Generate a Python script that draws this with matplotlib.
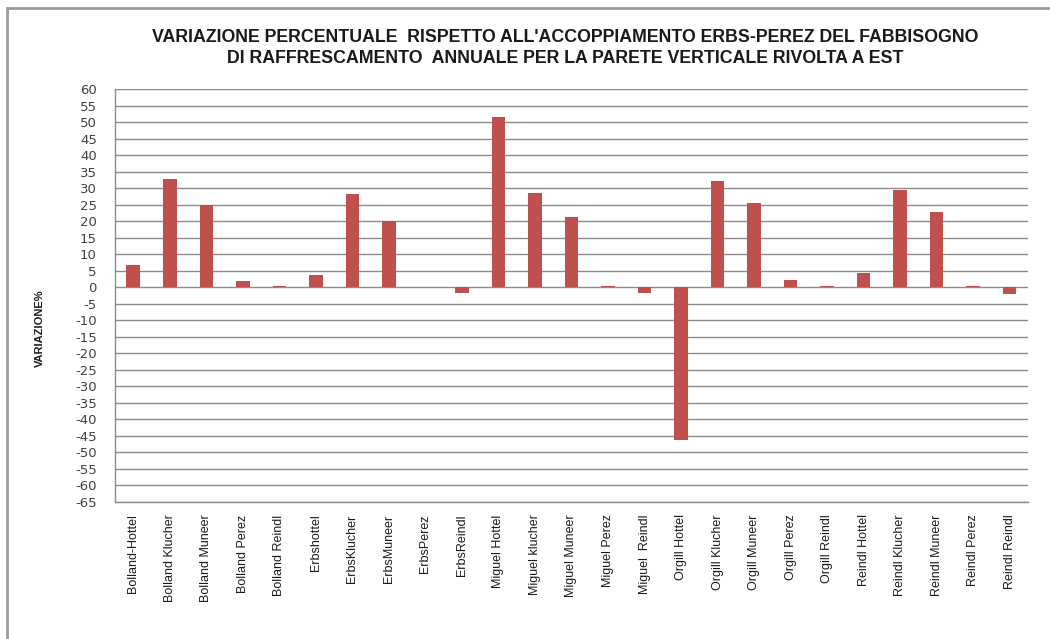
import matplotlib
matplotlib.use("Agg")
import matplotlib.pyplot as plt
from matplotlib.patches import Rectangle

categories = [
    "Bolland-Hottel", "Bolland Klucher", "Bolland Muneer", "Bolland Perez", "Bolland Reindl",
    "Erbshottel", "ErbsKlucher", "ErbsMuneer", "ErbsPerez", "ErbsReindl",
    "Miguel Hottel", "Miguel klucher", "Miguel Muneer", "Miguel Perez", "Miguel  Reindl",
    "Orgill Hottel", "Orgill Klucher", "Orgill Muneer", "Orgill Perez", "Orgill Reindl",
    "Reindl Hottel", "Reindl Klucher", "Reindl Muneer", "Reindl Perez", "Reindl Reindl",
]
variazione = [
    6.7, 32.7, 25.0, 1.8, 0.4,
    3.6, 28.2, 20.0, 0.0, -1.6,
    51.6, 28.4, 21.4, 0.4, -1.6,
    -46.3, 32.1, 25.4, 2.1, 0.4,
    4.2, 29.3, 22.8, 0.4, -2.0,
]
y_ticks = list(range(-65, 61, 5))

title = ("VARIAZIONE PERCENTUALE  RISPETTO ALL'ACCOPPIAMENTO ERBS-PEREZ DEL FABBISOGNO\n"
         "DI RAFFRESCAMENTO  ANNUALE PER LA PARETE VERTICALE RIVOLTA A EST")

fig = plt.figure(figsize=(10.5, 6.39), dpi=100)
fig.patch.set_facecolor("white")

# outer chart frame
fig.patches.append(Rectangle((7 / 1050, -0.05), 1.1, 1 - 8 / 639 + 0.05,
                             transform=fig.transFigure, fill=False,
                             edgecolor="#9a9a9a", linewidth=2))

ax = fig.add_axes([0.1095, 0.2144, 0.8695, 0.6463])
x = list(range(len(categories)))
ax.bar(x, variazione, width=0.37, color="#C0504D", zorder=3)

ax.set_xlim(-0.5, len(categories) - 0.5)
ax.set_ylim(-65, 60)
ax.set_yticks(y_ticks)
ax.set_yticklabels([str(v) for v in y_ticks], fontsize=9.5, color="#404040",
                   family="DejaVu Sans")
ax.yaxis.grid(True, color="#8c8c8c", linewidth=1.0, zorder=0)
ax.set_axisbelow(True)

ax.set_xticks(x)
ax.set_xticklabels(categories, rotation=90, fontsize=9, family="Liberation Sans",
                   color="#1a1a1a", va="top", ha="center")

ax.tick_params(axis="y", length=0, pad=13)
ax.tick_params(axis="x", length=0, pad=9)
for side in ("right", "top"):
    ax.spines[side].set_visible(False)
for side in ("left", "bottom"):
    ax.spines[side].set_color("#8c8c8c")
    ax.spines[side].set_linewidth(1.0)

fig.text(0.538, 0.925, title, ha="center", va="center", fontsize=12.8,
         fontweight="bold", family="Liberation Sans", color="#1a1a1a",
         linespacing=1.3)

fig.text(0.038, 0.487, "VARIAZIONE%", rotation=90, ha="center", va="center",
         fontsize=8, fontweight="bold", family="Liberation Sans", color="#1a1a1a")

fig.savefig("out.png", dpi=100)
